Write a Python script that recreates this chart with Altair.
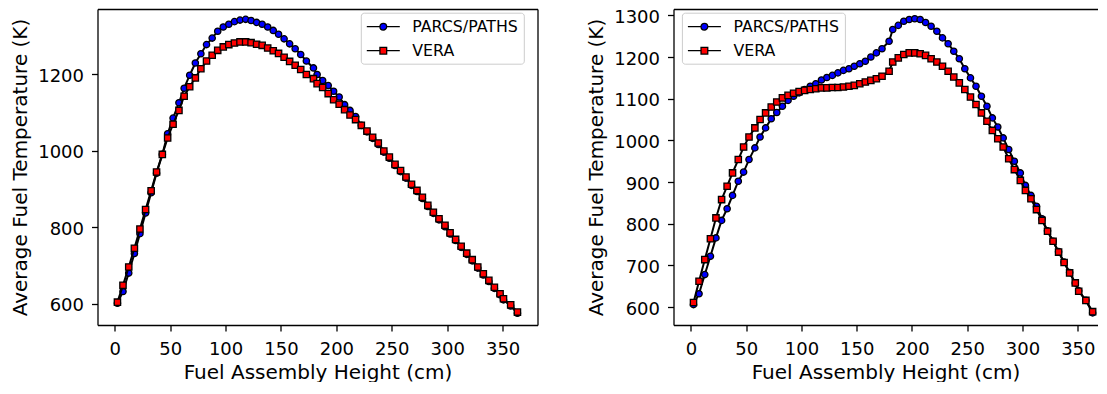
import altair as alt
import pandas as pd

FONT = "DejaVu Sans"

series_names = ["PARCS/PATHS", "VERA"]
x_ticks = [0, 50, 100, 150, 200, 250, 300, 350]
left_y_ticks = [600, 800, 1000, 1200]
right_y_ticks = [600, 700, 800, 900, 1000, 1100, 1200, 1300]

height_cm = [2.4, 7.4, 12.6, 17.7, 22.7, 27.8, 32.8, 37.7, 42.9, 47.7,
             52.6, 57.9, 62.6, 67.6, 72.7, 77.7, 82.8, 87.9, 92.9, 97.9,
             102.9, 108.0, 113.0, 118.1, 123.0, 128.0, 133.0, 138.0, 143.0, 147.8,
             152.8, 157.8, 162.8, 167.8, 172.9, 179.3, 182.6, 187.6, 192.6, 197.5,
             202.5, 207.4, 212.3, 217.3, 222.5, 227.6, 232.7, 237.8, 242.8, 247.8,
             252.9, 257.9, 262.8, 267.8, 272.7, 277.6, 282.5, 287.5, 292.6, 298.0,
             302.6, 307.6, 312.6, 317.6, 322.6, 327.6, 332.6, 337.6, 342.6, 347.7,
             350.8, 357.3, 363.4]

left_parcs = [601, 632, 680, 731, 783, 837, 890, 941, 990, 1044,
              1085, 1125, 1163, 1197, 1229, 1253, 1277, 1294, 1312, 1323,
              1330, 1337, 1341, 1343, 1340, 1335, 1330, 1323, 1314, 1304,
              1292, 1279, 1266, 1251, 1234, 1216, 1199, 1183, 1170, 1155,
              1140, 1120, 1105, 1089, 1066, 1049, 1032, 1016, 996, 980,
              961, 945, 928, 909, 893, 875, 854, 836, 819, 801,
              782, 765, 747, 729, 712, 693, 675, 658, 640, 623,
              610, 594, 575]

left_vera = [604, 648, 696, 745, 795, 846, 895, 944, 990, 1033,
             1069, 1105, 1142, 1167, 1190, 1214, 1234, 1249, 1262, 1271,
             1277, 1281, 1284, 1284, 1282, 1278, 1275, 1268, 1261, 1254,
             1244, 1233, 1223, 1212, 1199, 1188, 1175, 1165, 1149, 1133,
             1121, 1107, 1093, 1081, 1066, 1051, 1035, 1020, 999, 983,
             964, 948, 931, 912, 896, 878, 857, 839, 822, 805,
             785, 768, 750, 732, 715, 696, 678, 661, 643, 626,
             613, 597, 578]

right_parcs = [606, 632, 678, 722, 766, 808, 836, 868, 902, 924,
               954, 982, 1008, 1030, 1052, 1067, 1082, 1096, 1106, 1114,
               1122, 1130, 1136, 1145, 1151, 1156, 1162, 1168, 1172, 1178,
               1184, 1190, 1200, 1210, 1220, 1238, 1266, 1276, 1286, 1290,
               1292, 1290, 1283, 1274, 1262, 1246, 1232, 1214, 1196, 1172,
               1150, 1130, 1106, 1082, 1054, 1032, 1006, 978, 950, 922,
               892, 868, 842, 812, 783, 758, 733, 708, 683, 658,
               639, 616, 586]

right_vera = [611, 662, 714, 764, 814, 858, 890, 922, 954, 984,
              1008, 1030, 1050, 1066, 1080, 1092, 1102, 1108, 1113, 1117,
              1120, 1122, 1124, 1126, 1126, 1127, 1127, 1128, 1130, 1132,
              1136, 1140, 1144, 1148, 1154, 1166, 1188, 1198, 1206, 1210,
              1210, 1208, 1204, 1196, 1188, 1178, 1166, 1152, 1138, 1122,
              1104, 1086, 1066, 1046, 1024, 1004, 984, 956, 930, 904,
              880, 860, 834, 808, 782, 758, 732, 707, 682, 658,
              638, 616, 589]

series_fill = ["#0000ff", "#ff0000"]
series_marker = ["circle", "square"]

# legend symbols: a line segment with the marker in the middle (matplotlib style)
legend_circle = ("M-1,0L0.6425,0M1.4825,0L3.125,0"
                 "M1.4825,0A0.42,0.42,0,1,1,0.6425,0A0.42,0.42,0,1,1,1.4825,0Z")
legend_square = ("M-1,0L0.6425,0M1.4825,0L3.125,0"
                 "M0.6425,-0.42L1.4825,-0.42L1.4825,0.42L0.6425,0.42Z")


def make_df(parcs, vera):
    n = len(height_cm)
    return pd.DataFrame({
        "x": height_cm + height_cm,
        "T": parcs + vera,
        "series": [series_names[0]] * n + [series_names[1]] * n,
    })


def panel(df, xdom, ydom, yticks, width, height, legend_x, legend_y, right_border):
    base = alt.Chart(df)
    xs = alt.Scale(domain=xdom, nice=False, zero=False)
    ys = alt.Scale(domain=ydom, nice=False, zero=False)
    x_main = alt.X("x:Q", scale=xs, axis=alt.Axis(
        orient="bottom", values=x_ticks, title="Fuel Assembly Height (cm)",
        titleY=53, titleBaseline="alphabetic", format="d"))
    y_main = alt.Y("T:Q", scale=ys, axis=alt.Axis(
        orient="left", values=yticks, title="Average Fuel Temperature (K)",
        titleX=-71, titleBaseline="alphabetic", format="d"))
    x_top = alt.X("x:Q", scale=xs, axis=alt.Axis(
        orient="top", labels=False, ticks=False, title=None, domain=True))
    y_right = alt.Y("T:Q", scale=ys, axis=alt.Axis(
        orient="right", labels=False, ticks=False, title=None, domain=True,
        domainOpacity=(1 if right_border else 0)))
    x_none = alt.X("x:Q", scale=xs, axis=None)
    y_none = alt.Y("T:Q", scale=ys, axis=None)

    p = base.transform_filter(alt.datum.series == series_names[0])
    v = base.transform_filter(alt.datum.series == series_names[1])

    line_p = p.mark_line(color="black", strokeWidth=2).encode(x=x_main, y=y_main)
    pts_p = p.mark_point(shape=series_marker[0], filled=True, fill=series_fill[0],
                         stroke="black", strokeWidth=1.3, size=40, opacity=1).encode(
        x=x_none, y=y_none)
    line_v = v.mark_line(color="black", strokeWidth=2).encode(x=x_top, y=y_right)
    pts_v = v.mark_point(shape=series_marker[1], filled=True, fill=series_fill[1],
                         stroke="black", strokeWidth=1.3, size=40, opacity=1).encode(
        x=x_none, y=y_none)

    leg = alt.Legend(
        title=None, orient="none", legendX=legend_x, legendY=legend_y,
        fillColor="rgba(255,255,255,0.8)", strokeColor="#cccccc",
        cornerRadius=3, padding=5, labelFont=FONT, labelFontSize=15.8,
        labelColor="black", labelOffset=28.5, symbolSize=256,
        symbolStrokeWidth=1.3, symbolStrokeColor="black", symbolOpacity=1,
        rowPadding=7)
    legend_layer = base.transform_filter(alt.datum.x < -1000).mark_point(
        filled=True, strokeWidth=1.3, opacity=1).encode(
        fill=alt.Fill("series:N", scale=alt.Scale(domain=series_names, range=series_fill),
                      legend=leg),
        stroke=alt.Stroke("series:N", scale=alt.Scale(domain=series_names,
                                                      range=["black", "black"]),
                          legend=leg),
        shape=alt.Shape("series:N", scale=alt.Scale(domain=series_names,
                                                    range=[legend_circle, legend_square]),
                        legend=leg),
    )
    return alt.layer(line_p, pts_p, line_v, pts_v, legend_layer).properties(
        width=width, height=height)


left = panel(make_df(left_parcs, left_vera), [-15.6, 381.5], [544.3, 1370.0],
             left_y_ticks, 440, 316, 263.3, 3.7, True)
right = panel(make_df(right_parcs, right_vera), [-15.7, 367.8], [557.0, 1315.3],
              right_y_ticks, 424, 316, 8.4, 3.7, False)

chart = alt.hconcat(left, right, spacing=136, bounds="flush").resolve_scale(
    x="independent", y="independent", fill="independent", shape="independent",
    stroke="independent"
).resolve_legend(fill="independent", shape="independent", stroke="independent").properties(
    padding={"left": 2.5, "top": 0, "right": 0, "bottom": 0}
).configure_view(stroke=None).configure_axis(
    domainColor="black", domainWidth=1.3, tickColor="black", tickWidth=1.3,
    tickSize=6, labelFont=FONT, labelFontSize=18, labelColor="black",
    titleFont=FONT, titleFontSize=20, titleFontWeight="normal", titleColor="black",
    grid=False
).configure_axisX(labelPadding=9).configure_axisY(labelPadding=8, labelOffset=2)

chart.save("out.html", embed_options={"renderer": "svg", "actions": False})
